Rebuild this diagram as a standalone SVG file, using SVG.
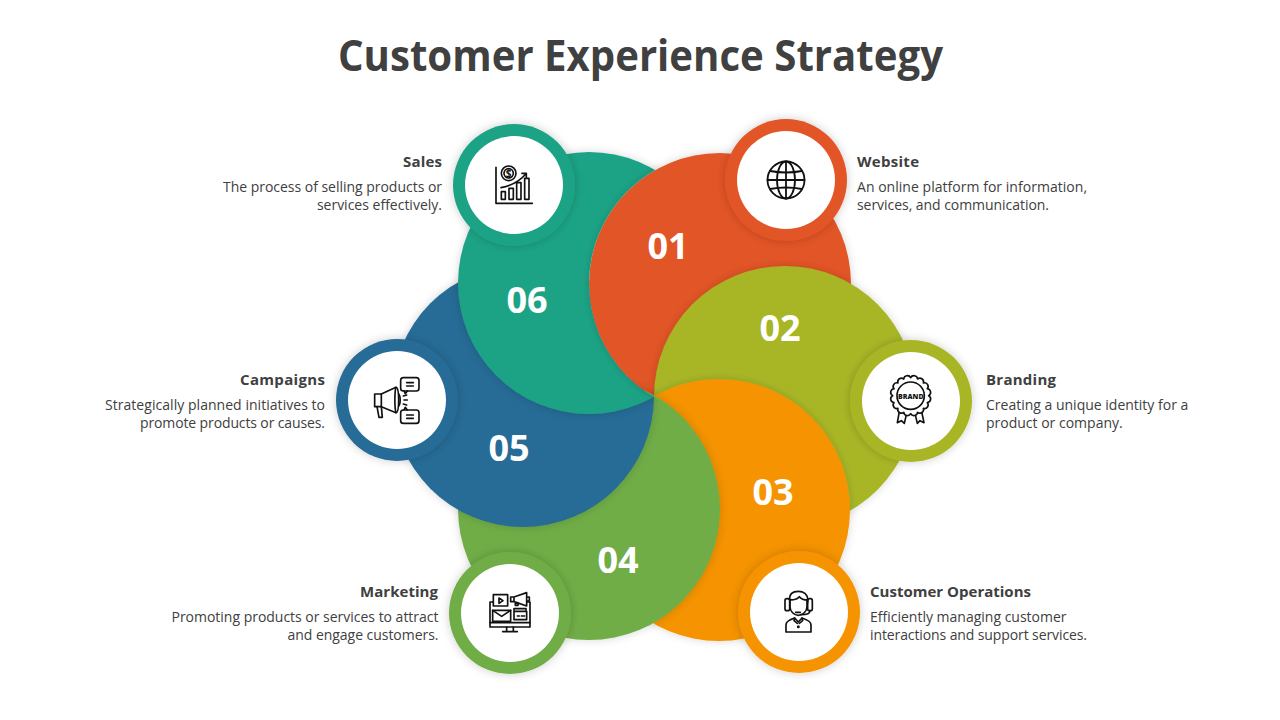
<svg xmlns="http://www.w3.org/2000/svg" width="1280" height="720" viewBox="0 0 1280 720">
<style>
text{font-family:"Open Sans","Noto Sans","Liberation Sans",sans-serif;fill:#404040}
.title{font-size:43px;font-weight:700}
.h{font-size:15px;font-weight:700}
.d{font-size:14px}
.r{text-anchor:end}
.n{font-size:36px;font-weight:700;fill:#fff;text-anchor:middle}
.ic{fill:none;stroke:#111;stroke-width:5;stroke-linejoin:round;stroke-linecap:round}
.inner{fill:#fff}
</style>
<defs>
<filter id="sh" x="-30%" y="-30%" width="160%" height="160%"><feDropShadow dx="0" dy="0" stdDeviation="4" flood-color="#000" flood-opacity=".16"/></filter>
<filter id="so" x="-30%" y="-30%" width="160%" height="160%"><feGaussianBlur in="SourceAlpha" stdDeviation="4"/><feComponentTransfer><feFuncA type="linear" slope=".16"/></feComponentTransfer><feComposite in2="SourceAlpha" operator="out"/></filter>
<filter id="bs" x="-30%" y="-30%" width="160%" height="160%"><feDropShadow dx="0" dy="0" stdDeviation="5" flood-color="#000" flood-opacity=".2"/></filter>
<clipPath id="c6"><circle cx="589" cy="283" r="131"/></clipPath>
<mask id="m5" maskUnits="userSpaceOnUse" x="0" y="0" width="1280" height="720">
<rect width="1280" height="720" fill="#fff"/>
<circle cx="720" cy="284" r="131" fill="#000"/>
</mask>
<mask id="m6" maskUnits="userSpaceOnUse" x="0" y="0" width="1280" height="720">
<rect width="1280" height="720" fill="#fff"/>
<circle cx="720" cy="284" r="131" fill="#000"/>
<circle cx="785" cy="397" r="131" fill="#000"/>
</mask>
</defs>
<rect width="1280" height="720" fill="#fff"/>
<text class="title" x="338" y="70.500" textLength="605" lengthAdjust="spacingAndGlyphs">Customer Experience Strategy</text>
<g id="petals">
<circle cx="720" cy="284" r="131" fill="#E25527" filter="url(#sh)"/>
<circle cx="785" cy="397" r="131" fill="#A8B626" filter="url(#sh)"/>
<circle cx="719" cy="510" r="131" fill="#F59300" filter="url(#sh)"/>
<circle cx="589" cy="509" r="131" fill="#70AD47" filter="url(#sh)"/>
<g mask="url(#m5)"><circle cx="523" cy="396" r="131" fill="#266C96" filter="url(#sh)"/></g>
<g mask="url(#m6)"><circle cx="589" cy="283" r="131" fill="#1FA385" filter="url(#sh)"/></g>
<g clip-path="url(#c6)"><circle cx="720" cy="284" r="131" fill="#E25527" filter="url(#so)"/></g>
</g>
<g id="connectors"></g>
<g id="node-01">
<text class="n" x="668" y="259">01</text>
<circle cx="786" cy="180" r="61" fill="#E25527" filter="url(#bs)"/><circle class="inner" cx="786" cy="180" r="49"/>
<g class="ic" transform="translate(786 180)" style="stroke-width:1.800">
<circle r="18.500"/><ellipse rx="9" ry="18.500"/><line x1="0" y1="-18.500" x2="0" y2="18.500"/><line x1="-18.500" y1="0" x2="18.500" y2="0"/><path d="M-16-9Q0-6 16-9M-16 9Q0 6 16 9"/>
</g>
<text class="h" x="857" y="166.500" textLength="62">Website</text>
<text class="d" x="857" y="192" textLength="230">An online platform for information,</text>
<text class="d" x="857" y="210" textLength="192">services, and communication.</text>
</g>
<g id="node-02">
<text class="n" x="780" y="341">02</text>
<circle cx="911" cy="401" r="61" fill="#A8B626" filter="url(#bs)"/><circle class="inner" cx="911" cy="401" r="49"/>
<g class="ic" transform="translate(840 330) scale(.3333)">
<path d="M178 245l-6 33 12-6 9 8 7-30zM225 250l7 30 8-8 12 6-7-33z"/>
<path transform="translate(212 197)" fill="#fff" d="M54 0A11 11 0 0 1 49.900 20.700A11 11 0 0 1 38.200 38.200A11 11 0 0 1 20.700 49.900A11 11 0 0 1 0 54A11 11 0 0 1 -20.700 49.900A11 11 0 0 1 -38.200 38.200A11 11 0 0 1 -49.900 20.700A11 11 0 0 1 -54 0A11 11 0 0 1 -49.900 -20.700A11 11 0 0 1 -38.200 -38.200A11 11 0 0 1 -20.700 -49.900A11 11 0 0 1 0 -54A11 11 0 0 1 20.700 -49.900A11 11 0 0 1 38.200 -38.200A11 11 0 0 1 49.900 -20.700A11 11 0 0 1 54 0z"/>
<circle cx="212" cy="197" r="41"/>
</g>
<text x="910.800" y="398.500" style="font-size:7px;font-weight:800;text-anchor:middle;fill:#111">BRAND</text>
<text class="h" x="986" y="385" textLength="70">Branding</text>
<text class="d" x="986" y="410">Creating a unique identity for a</text>
<text class="d" x="986" y="428">product or company.</text>
</g>
<g id="node-03">
<text class="n" x="773" y="505">03</text>
<circle cx="799" cy="612" r="61" fill="#F59300" filter="url(#bs)"/><circle class="inner" cx="799" cy="612" r="49"/>
<g class="ic" transform="translate(730 542) scale(.3333)">
<path d="M178 172c0-18 12-24 27-24s28 8 28 26v8"/><path d="M178 172c8 4 24 0 30-8 6 8 14 10 25 10"/>
<path d="M180 172v22c0 14 12 26 25 26s26-12 26-26v-20"/>
<rect x="165" y="170" width="14" height="36" rx="6"/><rect x="233" y="170" width="14" height="36" rx="6"/>
<path d="M240 206c0 8-14 12-28 12"/><path d="M197 211h14"/>
<path d="M168 270v-22c0-10 14-16 26-20l11 12 11-12c12 4 27 10 27 20v22z"/><path d="M194 228l-2 8 10 8M216 228l2 8-10 8"/><circle cx="205" cy="254" r="2"/>
</g>
<text class="h" x="870" y="597" textLength="161">Customer Operations</text>
<text class="d" x="870" y="622">Efficiently managing customer</text>
<text class="d" x="870" y="640" textLength="217">interactions and support services.</text>
</g>
<g id="node-04">
<text class="n" x="618" y="573">04</text>
<circle cx="510" cy="613" r="61" fill="#70AD47" filter="url(#bs)"/><circle class="inner" cx="510" cy="613" r="49"/>
<g class="ic" transform="translate(440 542) scale(.3333)">
<path d="M160 180h-10v75h120v-75h-8"/><path d="M150 242h120"/><path d="M200 255v12M220 255v12M188 269h44"/>
<rect x="160" y="158" width="43" height="34"/><path d="M177 168l12 8-12 8z"/>
<rect x="158" y="205" width="54" height="33"/><path d="M158 205l27 18 27-18"/>
<path d="M222 205v-5h36v5"/><rect x="222" y="208" width="38" height="25"/><path d="M232 222h6M244 222h10"/>
<path d="M212 165h10l38-13v40l-38-13h-10zM222 165v14M262 165h6v12h-6M226 180v10h8v-8"/>
</g>
<text class="h r" x="438" y="597" textLength="78">Marketing</text>
<text class="d r" x="438.500" y="622" textLength="267">Promoting products or services to attract</text>
<text class="d r" x="438.500" y="640" textLength="151">and engage customers.</text>
</g>
<g id="node-05">
<text class="n" x="509" y="461">05</text>
<circle cx="397" cy="400" r="61" fill="#266C96" filter="url(#bs)"/><circle class="inner" cx="397" cy="400" r="49"/>
<g class="ic" transform="translate(328 330) scale(.3333)">
<path d="M140 192h20v38h-20z"/><path d="M160 192l44-20c6 0 8 18 8 38s-2 38-8 38l-44-18"/><path d="M204 172c-4 10-5 60 0 76M212 192c6 6 6 30 0 36"/>
<path d="M147 230l6 32h10l-3-32"/>
<rect x="218" y="143" width="55" height="40" rx="8"/><path d="M228 183l4 8 6-8"/><path d="M236 158h20M236 168h20"/>
<rect x="218" y="240" width="55" height="40" rx="8"/><path d="M228 240l4-8 6 8"/><path d="M236 255h20M236 265h20"/>
<path d="M226 198l10-3M228 210h10M226 222l10 3"/>
</g>
<text class="h r" x="325" y="385" textLength="85">Campaigns</text>
<text class="d r" x="325" y="410" textLength="220">Strategically planned initiatives to</text>
<text class="d r" x="325" y="428" textLength="185">promote products or causes.</text>
</g>
<g id="node-06">
<text class="n" x="527" y="313">06</text>
<circle cx="514" cy="185" r="61" fill="#1FA385" filter="url(#bs)"/><circle class="inner" cx="514" cy="185" r="49"/>
<g class="ic" transform="translate(440 110) scale(.3333)">
<path d="M168 172v108h109"/>
<circle cx="206" cy="190" r="22"/><circle cx="206" cy="190" r="14"/>
<rect x="184" y="245" width="12" height="23"/><rect x="207" y="235" width="13" height="33"/><rect x="230" y="218" width="13" height="50"/><rect x="254" y="205" width="13" height="63"/>
<path d="M183 233c30-6 55-18 75-42M246 190h13v12"/>
</g>
<text x="508.700" y="177" style="font-size:10px;font-weight:700;text-anchor:middle;fill:#111">$</text>
<text class="h r" x="442" y="166.500" textLength="39">Sales</text>
<text class="d r" x="442" y="192" textLength="219">The process of selling products or</text>
<text class="d r" x="442" y="210">services effectively.</text>
</g>
</svg>
